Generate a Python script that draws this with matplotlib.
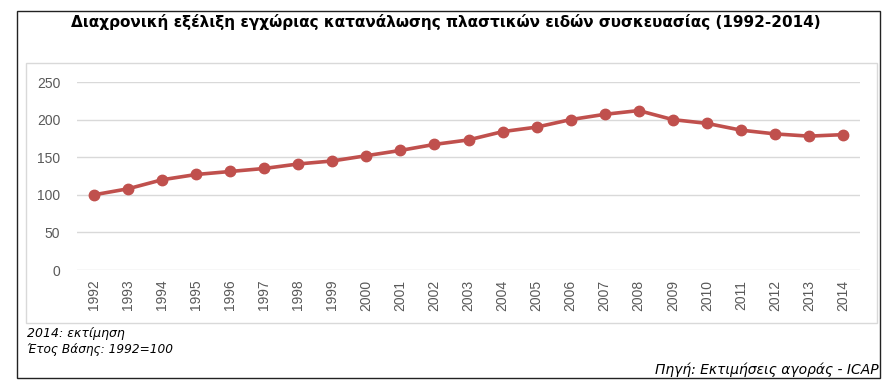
import matplotlib.pyplot as plt
from matplotlib.patches import Rectangle

YEARS = [str(y) for y in range(1992, 2015)]
INDEX = [100, 108, 120, 127, 131, 135, 141, 145, 152, 159, 167, 173,
         184, 190, 200, 207, 212, 200, 195, 186, 181, 178, 180]
YTICKS = [0, 50, 100, 150, 200, 250]

TITLE = "Διαχρονική εξέλιξη εγχώριας κατανάλωσης πλαστικών ειδών συσκευασίας (1992-2014)"
NOTE1 = "2014: εκτίμηση"
NOTE2 = "Έτος Βάσης: 1992=100"
SOURCE = "Πηγή: Εκτιμήσεις αγοράς - ICAP"

RED = "#C0504D"
GRID = "#D9D9D9"
TICK = "#595959"

W, H = 889, 392
fig = plt.figure(figsize=(W / 100, H / 100), dpi=100)


def fx(px):
    return px / W


def fy(py):
    return 1 - py / H


# outer frame
fig.patches.append(Rectangle((fx(17), fy(378)), fx(880) - fx(17), fy(11) - fy(378),
                             transform=fig.transFigure, fill=False,
                             edgecolor="#222222", lw=1.0))
# chart area frame
fig.patches.append(Rectangle((fx(26), fy(323)), fx(877) - fx(26), fy(63) - fy(323),
                             transform=fig.transFigure, fill=False,
                             edgecolor="#D9D9D9", lw=1.0))

fig.text(fx(446), fy(22), TITLE, ha="center", va="center",
         fontsize=11, fontweight="bold", family="DejaVu Sans")

ax = fig.add_axes([fx(77), fy(270), fx(860) - fx(77), fy(82) - fy(270)])
x = range(len(YEARS))
ax.plot(x, INDEX, color=RED, lw=2.6, marker="o", ms=7.5, zorder=3, clip_on=False)

ax.set_xlim(-0.5, len(YEARS) - 0.5)
ax.set_ylim(0, 250)
ax.set_yticks(YTICKS)
ax.set_xticks(list(x))
ax.set_xticklabels(YEARS, rotation=90)
ax.tick_params(axis="both", length=0, colors=TICK, labelsize=10)
ax.tick_params(axis="y", pad=12)
ax.tick_params(axis="x", pad=7)
for lbl in ax.get_xticklabels() + ax.get_yticklabels():
    lbl.set_family("Liberation Sans")
ax.grid(axis="y", color=GRID, lw=1.0)
ax.set_axisbelow(True)
for s in ax.spines.values():
    s.set_visible(False)

fig.text(fx(27), fy(333), NOTE1, ha="left", va="center",
         fontsize=9, style="italic", family="DejaVu Sans")
fig.text(fx(27), fy(350), NOTE2, ha="left", va="center",
         fontsize=8.7, style="italic", family="DejaVu Sans")
fig.text(fx(879), fy(370), SOURCE, ha="right", va="center",
         fontsize=10, style="italic", family="DejaVu Sans")

fig.savefig("out.png", dpi=100)
